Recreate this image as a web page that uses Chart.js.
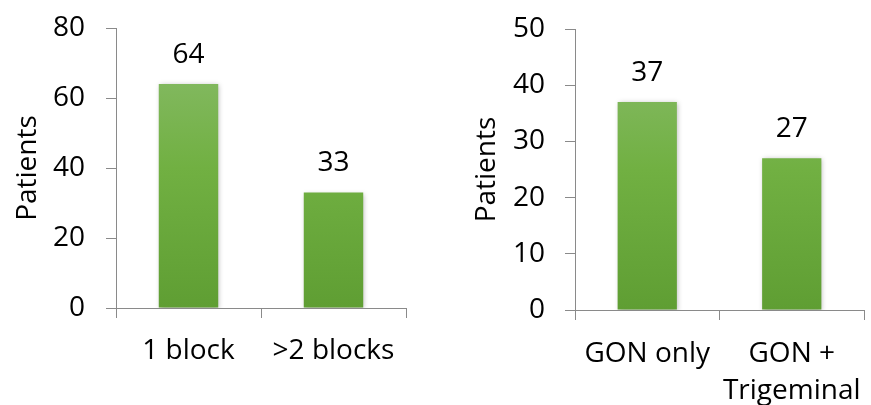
<!DOCTYPE html>
<html>
<head>
<meta charset="utf-8">
<script src="https://cdn.jsdelivr.net/npm/chart.js@4"></script>
<style>
  html, body { margin: 0; padding: 0; background: #fff; }
  .wrap { position: absolute; top: 0; height: 405px; }
  #leftWrap  { left: 0;     width: 440px; }
  #rightWrap { left: 440px; width: 431px; }
</style>
</head>
<body>
<div class="wrap" id="leftWrap"><canvas id="blocksChart" width="440" height="405"></canvas></div>
<div class="wrap" id="rightWrap"><canvas id="nerveChart" width="431" height="405"></canvas></div>
<script>
// ── Data ─────────────────────────────────
const blockLabels = ['1 block', '>2 blocks'];
const blockValues = [64, 33];
const blockTicks  = [0, 20, 40, 60, 80];

const nerveLabels = ['GON only', ['GON +', 'Trigeminal']];
const nerveValues = [37, 27];
const nerveTicks  = [0, 10, 20, 30, 40, 50];

const FONT  = "'Open Sans', sans-serif";
const FSIZE = 28;
const AXIS  = '#8a8a8a';
const INK   = '#000';

// ── Plugins ──────────────────────────────
const barShadow = {
    id: 'barShadow',
    beforeDatasetsDraw(chart) {
        const ctx = chart.ctx;
        ctx.save();
        ctx.shadowColor = 'rgba(0,0,0,0.28)';
        ctx.shadowBlur = 5;
        ctx.shadowOffsetX = 1;
        ctx.shadowOffsetY = 1;
    },
    afterDatasetsDraw(chart) {
        chart.ctx.restore();
    }
};

const valueLabels = {
    id: 'valueLabels',
    afterDatasetsDraw(chart) {
        const ctx = chart.ctx;
        const ds  = chart.data.datasets[0];
        ctx.save();
        ctx.font = `${FSIZE}px ${FONT}`;
        ctx.fillStyle = INK;
        ctx.textAlign = 'center';
        ctx.textBaseline = 'middle';
        chart.getDatasetMeta(0).data.forEach((bar, i) => {
            ctx.fillText(String(ds.data[i]), bar.x, bar.y - 29);
        });
        ctx.restore();
    }
};

function greenFill(context) {
    const area = context.chart.chartArea;
    if (!area) return '#70ad47';
    const g = context.chart.ctx.createLinearGradient(0, area.top, 0, area.bottom);
    g.addColorStop(0, '#8bbd6f');
    g.addColorStop(0.5, '#71b042');
    g.addColorStop(1, '#5f9e33');
    return g;
}

// ── Chart builder ────────────────────────
function makeChart(id, labels, values, ticks, opts) {
    const ctx = document.getElementById(id);
    return new Chart(ctx, {
        type: 'bar',
        data: {
            labels,
            datasets: [{
                data: values,
                backgroundColor: greenFill,
                borderWidth: 0,
                categoryPercentage: 1,
                barPercentage: 0.41
            }]
        },
        options: {
            responsive: false,
            animation: false,
            layout: { padding: { top: opts.top, right: opts.right, left: 0, bottom: 0 } },
            plugins: { legend: { display: false }, tooltip: { enabled: false } },
            scales: {
                x: {
                    afterFit: s => {
                        s.height = opts.xHeight;
                        // long last label would otherwise shrink the plot
                        s.paddingLeft = 0;
                        s.paddingRight = 0;
                    },
                    grid: { drawOnChartArea: false, tickLength: 10, color: AXIS, offset: true },
                    border: { color: AXIS },
                    ticks: { color: INK, padding: opts.xPad, font: { family: FONT, size: FSIZE, lineHeight: 1.32 }, maxRotation: 0 }
                },
                y: {
                    min: ticks[0],
                    max: ticks[ticks.length - 1],
                    afterFit: s => {
                        s.width = opts.yWidth;
                        // tick padding would otherwise push the plot top down
                        s.paddingTop = 10;
                        s.paddingBottom = 10;
                    },
                    afterBuildTicks: s => { s.ticks = ticks.map(v => ({ value: v })); },
                    grid: { drawOnChartArea: false, tickLength: 10, color: AXIS },
                    border: { color: AXIS },
                    ticks: { color: INK, padding: opts.tickPad, font: { family: FONT, size: FSIZE } },
                    title: {
                        display: true, text: 'Patients', color: INK,
                        padding: opts.titlePad, font: { family: FONT, size: FSIZE }
                    }
                }
            }
        },
        plugins: [barShadow, valueLabels]
    });
}

makeChart('blocksChart', blockLabels, blockValues, blockTicks,
    { top: 28, right: 34, xHeight: 97, yWidth: 116, tickPad: 21, titlePad: 11, xPad: 15 });
makeChart('nerveChart', nerveLabels, nerveValues, nerveTicks,
    { top: 29, right: 7, xHeight: 95, yWidth: 135, tickPad: 20, titlePad: 30, xPad: 16 });
</script>
</body>
</html>
